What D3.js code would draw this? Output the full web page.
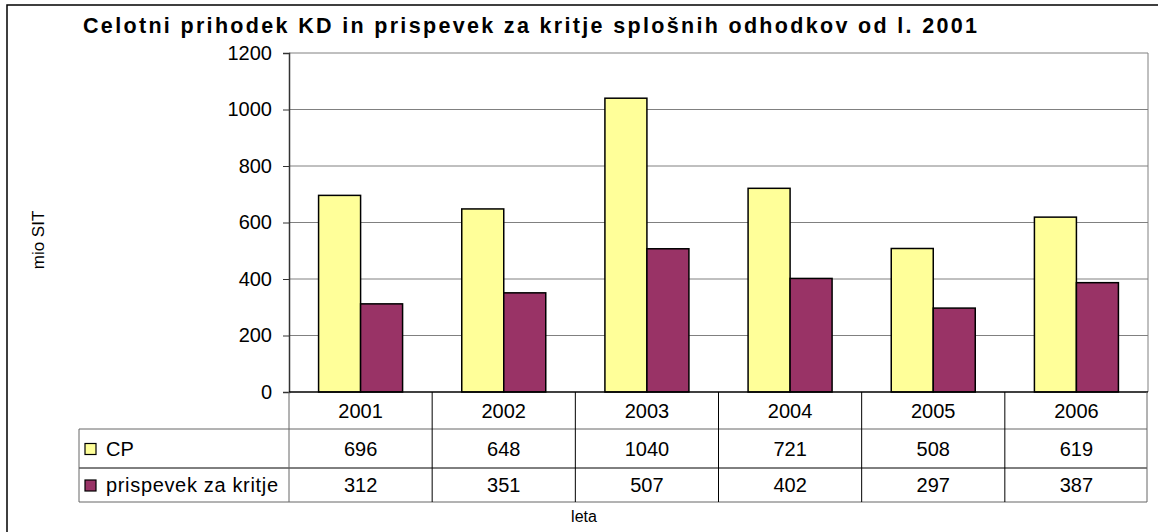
<!DOCTYPE html>
<html>
<head>
<meta charset="utf-8">
<script src="https://cdn.jsdelivr.net/npm/d3@7"></script>
<style>
  body { margin: 0; background: #fff; }
  text { font-family: "Liberation Sans", Arial, sans-serif; fill: #000; }
</style>
</head>
<body>
<svg id="chart" width="1158" height="532"></svg>
<script>
// data
const years = ["2001", "2002", "2003", "2004", "2005", "2006"];
const cp = [696, 648, 1040, 721, 508, 619];
const prispevek = [312, 351, 507, 402, 297, 387];
const seriesNames = ["CP", "prispevek za kritje"];
const seriesColors = ["#ffff99", "#993366"];
const yTicks = [0, 200, 400, 600, 800, 1000, 1200];

const svg = d3.select("#chart");
const margin = { left: 289, right: 1148, top: 53, bottom: 392 };
const fs = 20;

// outer frame
svg.append("rect")
  .attr("x", 7).attr("y", 5).attr("width", 1160).attr("height", 540)
  .attr("fill", "none").attr("stroke", "#000").attr("stroke-width", 1.5);

svg.append("text")
  .attr("x", 83).attr("y", 33)
  .attr("font-size", 21.5).attr("font-weight", "bold")
  .attr("textLength", 894).attr("lengthAdjust", "spacing")
  .text("Celotni prihodek KD in prispevek za kritje splošnih odhodkov od l. 2001");

const x = d3.scaleBand().domain(years).range([margin.left, margin.right]);
const y = d3.scaleLinear().domain([0, 1200]).range([margin.bottom, margin.top]);
const inner = d3.scaleBand().domain([0, 1]).range([0, 84]);
const groupOffset = (x.bandwidth() - 84) / 2;

// grid lines
svg.append("g").selectAll("line").data(yTicks.filter(d => d > 0)).join("line")
  .attr("x1", margin.left).attr("x2", margin.right)
  .attr("y1", d => y(d)).attr("y2", d => y(d))
  .attr("stroke", "#808080").attr("stroke-width", 1);

// plot area right edge
svg.append("line")
  .attr("x1", margin.right).attr("x2", margin.right)
  .attr("y1", margin.top).attr("y2", margin.bottom)
  .attr("stroke", "#808080");

// bars
const series = [cp, prispevek];
series.forEach((vals, si) => {
  svg.append("g").selectAll("rect").data(vals).join("rect")
    .attr("x", (d, i) => x(years[i]) + groupOffset + inner(si))
    .attr("y", d => y(d))
    .attr("width", inner.bandwidth())
    .attr("height", d => y(0) - y(d))
    .attr("fill", seriesColors[si])
    .attr("stroke", "#000").attr("stroke-width", 1.5);
});

// y axis
const yAxis = svg.append("g")
  .attr("transform", `translate(${margin.left},0)`)
  .call(d3.axisLeft(y).tickValues(yTicks).tickSize(6).tickPadding(11).tickFormat(d3.format("d")));
yAxis.attr("font-size", fs).attr("font-family", "Liberation Sans, Arial, sans-serif");
yAxis.selectAll("text").attr("font-size", fs);
yAxis.select(".domain").attr("stroke", "#333").attr("stroke-width", 1.5);
yAxis.selectAll(".tick line").attr("stroke", "#333");

svg.append("text")
  .attr("transform", "translate(44,240) rotate(-90)")
  .attr("text-anchor", "middle").attr("font-size", 17)
  .text("mio SIT");

// data table
const rowYear = [392, 429];
const rows = [[429, 468], [468, 502]];
const tableLeft = 79;

// horizontal lines
svg.append("line").attr("x1", margin.left).attr("x2", margin.right)
  .attr("y1", 392).attr("y2", 392).attr("stroke", "#000").attr("stroke-width", 1.5);
[429, 468, 502].forEach(yy => {
  svg.append("line").attr("x1", tableLeft).attr("x2", margin.right - 1)
    .attr("y1", yy).attr("y2", yy).attr("stroke", yy === 468 ? "#000" : "#666");
});
// vertical lines
const vx = years.map(d => x(d)).concat([margin.right - 1]);
vx.forEach((xx, i) => {
  svg.append("line").attr("x1", xx).attr("x2", xx)
    .attr("y1", 392).attr("y2", 502)
    .attr("stroke", i === 0 || i === vx.length - 1 ? "#666" : "#000");
});
svg.append("line").attr("x1", tableLeft).attr("x2", tableLeft)
  .attr("y1", 429).attr("y2", 502).attr("stroke", "#666");

svg.append("g").selectAll("text").data(years).join("text")
  .attr("x", d => x(d) + x.bandwidth() / 2)
  .attr("y", (rowYear[0] + rowYear[1]) / 2 + 7)
  .attr("text-anchor", "middle").attr("font-size", fs)
  .text(d => d);

series.forEach((vals, si) => {
  const [r0, r1] = rows[si];
  const cy = (r0 + r1) / 2;
  svg.append("g").selectAll("text").data(vals).join("text")
    .attr("x", (d, i) => x(years[i]) + x.bandwidth() / 2)
    .attr("y", cy + 7)
    .attr("text-anchor", "middle").attr("font-size", fs)
    .text(d => d);
  svg.append("rect")
    .attr("x", 85).attr("y", cy - 5).attr("width", 11).attr("height", 11)
    .attr("fill", seriesColors[si]).attr("stroke", "#000").attr("stroke-width", 1.2);
  svg.append("text")
    .attr("x", 106).attr("y", cy + 7).attr("font-size", fs)
    .attr("textLength", si === 1 ? 172 : null)
    .text(seriesNames[si]);
});

svg.append("text")
  .attr("x", 584).attr("y", 522)
  .attr("text-anchor", "middle").attr("font-size", 16)
  .text("leta");
</script>
</body>
</html>
